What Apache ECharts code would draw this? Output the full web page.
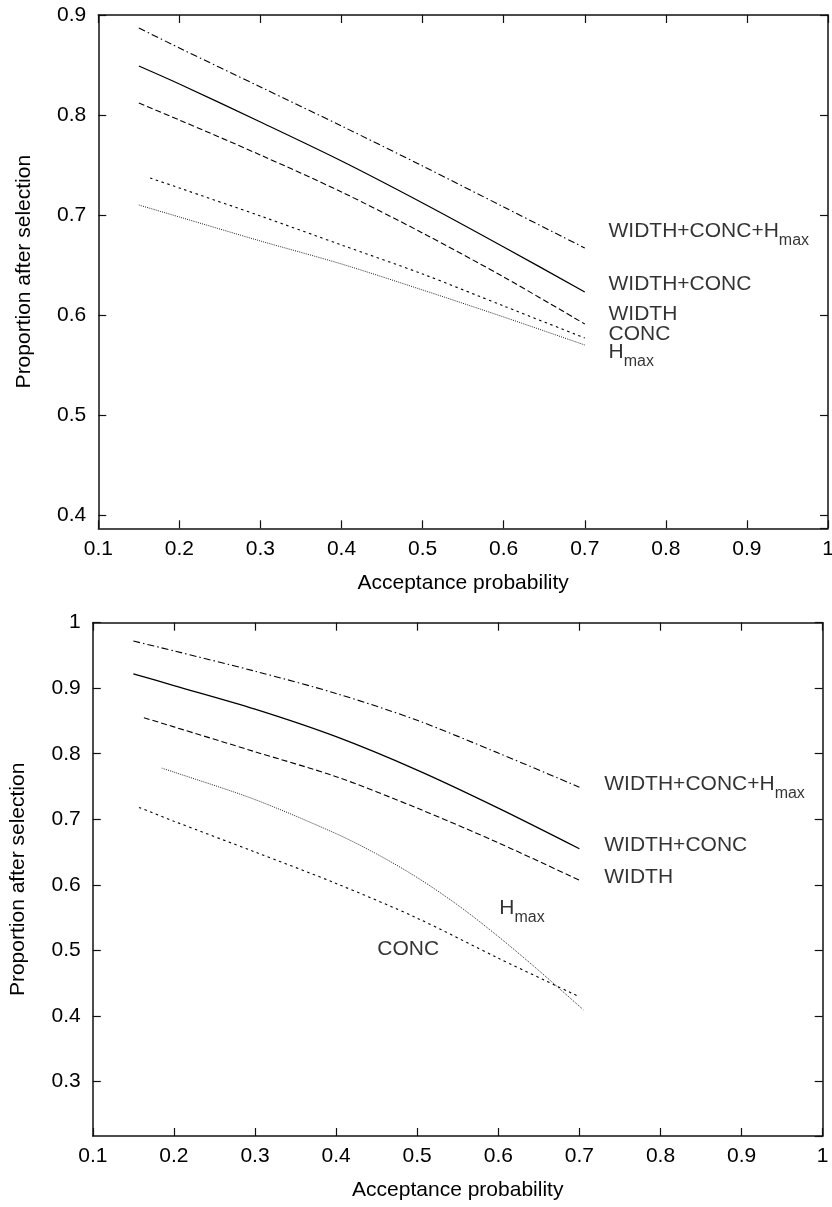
<!DOCTYPE html>
<html><head><meta charset="utf-8">
<script src="https://cdn.jsdelivr.net/npm/echarts@6/dist/echarts.min.js"></script>
<style>html,body{margin:0;padding:0;background:#fff}#c{width:832px;height:1207px}</style>
</head><body><div id="c"></div>
<script>
// ---------- data ----------
const xAxisTitle = 'Acceptance probability';
const yAxisTitle = 'Proportion after selection';

// upper panel
const topX      = [0.15, 0.2, 0.3, 0.4, 0.5, 0.6, 0.7];
const topAll    = [0.887, 0.867, 0.828, 0.789, 0.749, 0.708, 0.667]; // WIDTH+CONC+Hmax
const topWC     = [0.849, 0.831, 0.793, 0.754, 0.712, 0.668, 0.623]; // WIDTH+CONC
const topW      = [0.812, 0.795, 0.760, 0.723, 0.682, 0.638, 0.591]; // WIDTH
const topConcX  = [0.164, 0.2, 0.3, 0.4, 0.5, 0.6, 0.7];
const topConc   = [0.737, 0.727, 0.699, 0.670, 0.641, 0.609, 0.577]; // CONC
const topHmax   = [0.710, 0.698, 0.674, 0.651, 0.625, 0.598, 0.570]; // Hmax

// lower panel
const botX      = [0.15, 0.2, 0.3, 0.4, 0.5, 0.6, 0.7];
const botAll    = [0.972, 0.957, 0.926, 0.892, 0.851, 0.801, 0.749];
const botWC     = [0.922, 0.904, 0.868, 0.826, 0.775, 0.717, 0.655];
const botWX     = [0.163, 0.2, 0.3, 0.4, 0.5, 0.6, 0.7];
const botW      = [0.855, 0.841, 0.803, 0.765, 0.717, 0.664, 0.607];
const botHmaxX  = [0.185, 0.2, 0.3, 0.4, 0.45, 0.5, 0.55, 0.6, 0.65, 0.705];
const botHmax   = [0.778, 0.772, 0.730, 0.678, 0.647, 0.611, 0.569, 0.521, 0.469, 0.409];
const botConcX  = [0.157, 0.2, 0.3, 0.4, 0.5, 0.6, 0.7];
const botConc   = [0.718, 0.697, 0.650, 0.602, 0.549, 0.488, 0.429];

// axis ranges
const xMin = 0.1, xMax = 1.0, xStep = 0.1;
const topYMin = 0.3867, topYMax = 0.9;
const botYMin = 0.2165, botYMax = 1.0;

// curve labels: [text, x, y]
const topLabels = [
  ['WIDTH+CONC+H{sub|max}', 0.7293, 0.6833],
  ['WIDTH+CONC', 0.7293, 0.631],
  ['WIDTH', 0.7293, 0.6003],
  ['CONC', 0.7293, 0.5805],
  ['H{sub|max}', 0.7293, 0.5625]
];
const botLabels = [
  ['WIDTH+CONC+H{sub|max}', 0.7307, 0.7535],
  ['WIDTH+CONC', 0.7307, 0.660],
  ['WIDTH', 0.7307, 0.6118],
  ['H{sub|max}', 0.6012, 0.564],
  ['CONC', 0.4508, 0.5022]
];

// ---------- chart ----------
const FONT = "'Liberation Sans', Arial, Helvetica, sans-serif";
const zip = (xs, ys) => xs.map((x, i) => [x, ys[i]]);
const styles = {
  all:  {type: [7, 3, 1.5, 3], width: 1.1, color: '#000'},
  wc:   {type: 'solid', width: 1.3, color: '#000'},
  w:    {type: [6, 3], width: 1.1, color: '#000'},
  conc: {type: [2.5, 3.5], width: 1.1, color: '#000'},
  hmax: {type: [1, 1.2], width: 1, color: '#222'}
};
const lineColor = '#111';
function isTick(v) { return Math.abs(v * 10 - Math.round(v * 10)) < 1e-6; }

function xAxes(grid) {
  return [
    {type: 'value', gridIndex: grid, min: xMin, max: xMax, interval: xStep, position: 'bottom',
     axisLine: {show: true, lineStyle: {color: lineColor, width: 1.5}},
     axisTick: {show: true, inside: true, length: 8, lineStyle: {color: lineColor, width: 1.2}},
     axisLabel: {show: true, color: '#000', fontSize: 21, fontFamily: FONT, margin: 10,
                 formatter: v => (Math.round(v * 10) / 10).toString()},
     splitLine: {show: false},
     name: xAxisTitle, nameLocation: 'middle', nameGap: 44,
     nameTextStyle: {color: '#000', fontSize: 21, fontFamily: FONT}},
    {type: 'value', gridIndex: grid, min: xMin, max: xMax, interval: xStep, position: 'top',
     axisLine: {show: true, lineStyle: {color: lineColor, width: 1.5}},
     axisTick: {show: true, inside: true, length: 8, lineStyle: {color: lineColor, width: 1.2}},
     axisLabel: {show: false}, splitLine: {show: false}}
  ];
}
function yAxes(grid, mn, mx, split) {
  return [
    {type: 'value', gridIndex: grid, min: mn, max: mx, splitNumber: split, position: 'left',
     axisLine: {show: true, lineStyle: {color: lineColor, width: 1.5}},
     axisTick: {show: true, inside: true, length: 8, lineStyle: {color: lineColor, width: 1.2}},
     axisLabel: {show: true, showMinLabel: false, color: '#000', fontSize: 21, fontFamily: FONT, margin: 12,
                 formatter: v => isTick(v) ? (Math.round(v * 10) / 10).toString() : ''},
     splitLine: {show: false},
     name: yAxisTitle, nameLocation: 'middle', nameGap: 64, nameRotate: 90,
     nameTextStyle: {color: '#000', fontSize: 21, fontFamily: FONT}},
    {type: 'value', gridIndex: grid, min: mn, max: mx, splitNumber: split, position: 'right',
     axisLine: {show: true, lineStyle: {color: lineColor, width: 1.5}},
     axisTick: {show: true, inside: true, length: 8, lineStyle: {color: lineColor, width: 1.2}},
     axisLabel: {show: false}, splitLine: {show: false}}
  ];
}
function line(name, data, style, axisIdx) {
  return {type: 'line', name, data, xAxisIndex: axisIdx, yAxisIndex: axisIdx,
          showSymbol: false, symbol: 'none', smooth: 0.3, lineStyle: style, silent: true, z: 3};
}
function labels(list, axisIdx) {
  return {type: 'scatter', xAxisIndex: axisIdx, yAxisIndex: axisIdx, symbolSize: 0, silent: true, z: 5,
    data: list.map(l => ({value: [l[1], l[2]], name: l[0]})),
    label: {show: true, position: 'right', distance: 0, formatter: p => p.name,
      color: '#000', fontSize: 21, fontFamily: FONT, lineHeight: 21, textBorderWidth: 0,
      rich: {sub: {fontSize: 16, fontFamily: FONT, color: '#000', lineHeight: 16, padding: [18, 0, 0, 0]}}}};
}

const chart = echarts.init(document.getElementById('c'), null, {renderer: 'canvas'});
chart.setOption({
  animation: false,
  backgroundColor: '#fff',
  grid: [
    {left: 98.3, top: 15, width: 729.7, height: 513.3, outerBoundsMode: 'none', containLabel: false},
    {left: 92.8, top: 622.7, width: 729.9, height: 513.3, outerBoundsMode: 'none', containLabel: false}
  ],
  xAxis: [...xAxes(0), ...xAxes(1)],
  yAxis: [...yAxes(0, topYMin, topYMax, 5), ...yAxes(1, botYMin, botYMax, 8)],
  series: [
    line('WIDTH+CONC+Hmax', zip(topX, topAll), styles.all, 0),
    line('WIDTH+CONC', zip(topX, topWC), styles.wc, 0),
    line('WIDTH', zip(topX, topW), styles.w, 0),
    line('CONC', zip(topConcX, topConc), styles.conc, 0),
    line('Hmax', zip(topX, topHmax), styles.hmax, 0),
    labels(topLabels, 0),
    line('WIDTH+CONC+Hmax', zip(botX, botAll), styles.all, 2),
    line('WIDTH+CONC', zip(botX, botWC), styles.wc, 2),
    line('WIDTH', zip(botWX, botW), styles.w, 2),
    line('Hmax', zip(botHmaxX, botHmax), styles.hmax, 2),
    line('CONC', zip(botConcX, botConc), styles.conc, 2),
    labels(botLabels, 2)
  ]
});
</script></body></html>
